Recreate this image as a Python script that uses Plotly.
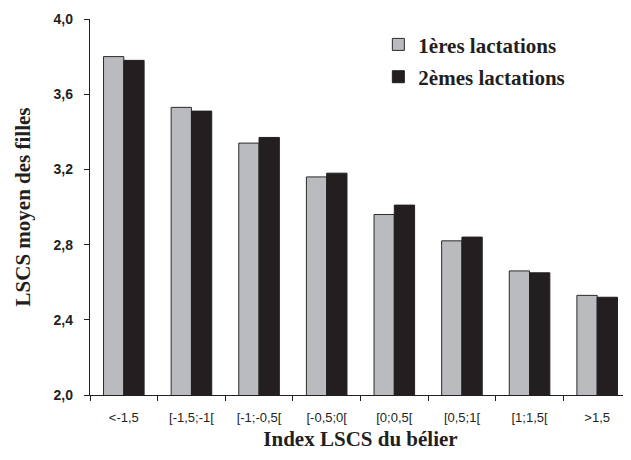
import plotly.graph_objects as go

categories = ["<-1,5", "[-1,5;-1[", "[-1;-0,5[", "[-0,5;0[", "[0;0,5[", "[0,5;1[", "[1;1,5[", ">1,5"]
lact1 = [3.80, 3.53, 3.34, 3.16, 2.96, 2.82, 2.66, 2.53]
lact2 = [3.78, 3.51, 3.37, 3.18, 3.01, 2.84, 2.65, 2.52]
series_names = ["1ères lactations", "2èmes lactations"]
y_ticks = [2.0, 2.4, 2.8, 3.2, 3.6, 4.0]

SERIF = "Liberation Serif, Times New Roman, serif"
SANS = "Liberation Sans, Arial, sans-serif"

fig = go.Figure()
fig.add_trace(go.Bar(x=categories, y=lact1, name=series_names[0], legendgroup="a",
                     marker=dict(color="#babbbe", line=dict(color="#2a2a2a", width=1))))
fig.add_trace(go.Bar(x=categories, y=lact2, name=series_names[1], legendgroup="b",
                     marker=dict(color="#231f20", line=dict(color="#231f20", width=1))))

# the page body has an 8px margin, so the figure is sized to fill the rest of the window
fig.update_layout(
    width=623, height=452,
    margin=dict(l=82, r=0, t=11, b=65),
    paper_bgcolor="white", plot_bgcolor="white",
    barmode="group", bargap=0.4, bargroupgap=0,
    separators=", ",
    showlegend=True,
    legend=dict(x=0.533, y=0.986, xanchor="left", yanchor="top",
                font=dict(family=SERIF, size=21, color="#231f20", weight="bold"),
                tracegroupgap=2, bgcolor="rgba(0,0,0,0)", itemwidth=30),
    xaxis=dict(
        automargin=False,
        showline=True, linecolor="#231f20", linewidth=1.3,
        ticks="outside", tickson="boundaries", ticklen=5, tickcolor="#231f20",
        tickfont=dict(family=SANS, size=13, color="#231f20"),
        ticklabelstandoff=10,
        title=dict(text="Index LSCS du bélier",
                   font=dict(family=SERIF, size=21, color="#231f20", weight="bold"),
                   standoff=7),
        showgrid=False,
    ),
    yaxis=dict(
        automargin=False,
        range=[2.0, 4.0], tickvals=y_ticks, tickformat=".1f",
        showline=True, linecolor="#231f20", linewidth=1.3,
        ticks="outside", ticklen=5, tickcolor="#231f20",
        tickfont=dict(family=SANS, size=14, color="#231f20", weight="bold"),
        ticklabelstandoff=8,
        title=dict(text="LSCS moyen des filles",
                   font=dict(family=SERIF, size=21, color="#231f20", weight="bold"),
                   standoff=17),
        showgrid=False, zeroline=False,
    ),
)

fig.write_html("out.html")
